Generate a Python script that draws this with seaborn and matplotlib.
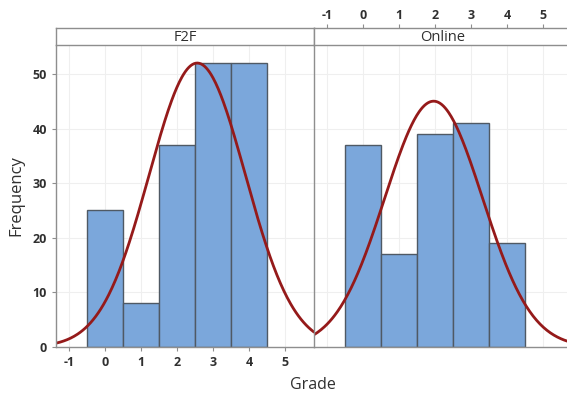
import numpy as np
import pandas as pd
import matplotlib.pyplot as plt
import seaborn as sns

# data
grades = [0, 1, 2, 3, 4]
f2f_counts = [25, 8, 37, 52, 52]
online_counts = [37, 17, 39, 41, 19]
panels = ["F2F", "Online"]
# fitted normal curves (mean, sd)
f2f_fit = (2.56, 1.335)
online_fit = (1.96, 1.356)
xticks = [-1, 0, 1, 2, 3, 4, 5]
yticks = [0, 10, 20, 30, 40, 50]

df = pd.DataFrame({
    "Grade": grades * 2,
    "count": f2f_counts + online_counts,
    "mode": ["F2F"] * 5 + ["Online"] * 5,
})

sns.set_style("white")
plt.rcParams["font.family"] = ["Open Sans", "DejaVu Sans"]
plt.rcParams["axes.unicode_minus"] = False

bar_col = "#7BA7DB"
edge_col = "#4F5964"
curve_col = "#951A1A"
frame_col = "#8E8E8E"
grid_col = "#EFEFEF"
txt_col = "#303030"

fig = plt.figure(figsize=(5.67, 3.93), dpi=100)
W, H = 567, 393
pw = 258 / W
plot_b = (H - 347) / H
plot_h = 302 / H
strip_b = (H - 45) / H
strip_h = 17 / H
lefts = [56 / W, 314 / W]

xlim = (-1.36, 5.8)
ylim = (0, 55.3)

fits = {"F2F": f2f_fit, "Online": online_fit}

for i, name in enumerate(panels):
    ax = fig.add_axes([lefts[i], plot_b, pw, plot_h])
    sub = df[df["mode"] == name]
    sns.histplot(data=sub, x="Grade", weights="count", discrete=True, ax=ax,
                 color=bar_col, edgecolor=edge_col, linewidth=1.0, alpha=1.0)
    mu, sd = fits[name]
    n = sub["count"].sum()
    xs = np.linspace(xlim[0], xlim[1], 300)
    ys = n * np.exp(-0.5 * ((xs - mu) / sd) ** 2) / (sd * np.sqrt(2 * np.pi))
    sns.lineplot(x=xs, y=ys, ax=ax, color=curve_col, linewidth=2.0)
    ax.set_xlim(*xlim)
    ax.set_ylim(*ylim)
    ax.set_xticks(xticks)
    ax.set_yticks(yticks)
    ax.grid(True, color=grid_col, linewidth=0.8)
    ax.set_axisbelow(True)
    ax.set_xlabel("")
    ax.set_ylabel("")
    for s in ["left", "bottom", "right", "top"]:
        ax.spines[s].set_color(frame_col)
        ax.spines[s].set_linewidth(1.0)
    ax.spines["top"].set_visible(False)
    ax.tick_params(colors=frame_col, labelcolor=txt_col, labelsize=9,
                   length=3, width=0.8)
    if i == 0:
        ax.spines["right"].set_visible(False)
        ax.tick_params(axis="x", bottom=True, labelbottom=True)
        ax.tick_params(axis="y", left=True, labelleft=True)
        for lab in ax.get_xticklabels() + ax.get_yticklabels():
            lab.set_fontweight("bold")
        ax.set_ylabel("Frequency", fontsize=12, color=txt_col, labelpad=6)
    else:
        ax.tick_params(axis="x", bottom=False, labelbottom=False)
        ax.tick_params(axis="y", left=False, labelleft=False)

    # strip on top of each panel
    sax = fig.add_axes([lefts[i], strip_b, pw, strip_h])
    sax.set_xlim(*xlim)
    sax.set_yticks([])
    for s in sax.spines.values():
        s.set_color(frame_col)
        s.set_linewidth(1.0)
    sax.text(0.5, 0.45, name, transform=sax.transAxes, ha="center",
             va="center", fontsize=10.5, color=txt_col)
    if i == 1:
        sax.set_xticks(xticks)
        sax.tick_params(axis="x", top=True, labeltop=True, bottom=False,
                        labelbottom=False, colors=frame_col,
                        labelcolor=txt_col, labelsize=9, length=3,
                        width=0.8, pad=1)
        for lab in sax.get_xticklabels():
            lab.set_fontweight("bold")
    else:
        sax.set_xticks([])

fig.text(313 / W, 1 - 385 / H, "Grade", ha="center", va="center",
         fontsize=11.5, color=txt_col)

fig.savefig("out.png", dpi=100)
